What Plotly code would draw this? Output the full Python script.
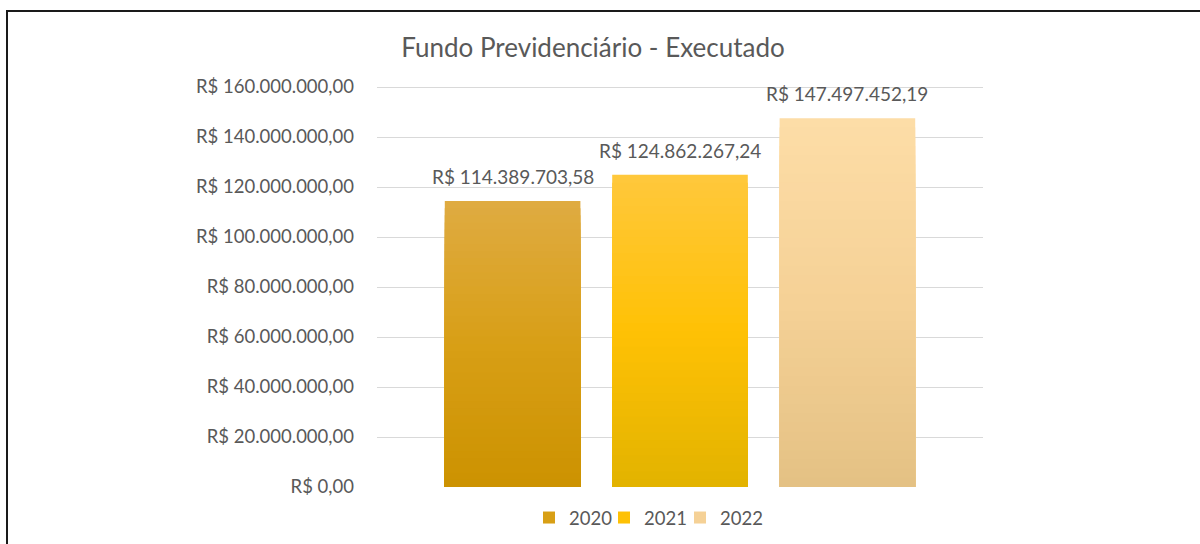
import plotly.graph_objects as go

# ---- data ----
years = ["2020", "2021", "2022"]
values = [114389703.58, 124862267.24, 147497452.19]
tick_values = [0, 20e6, 40e6, 60e6, 80e6, 100e6, 120e6, 140e6, 160e6]
title_text = "Fundo Previdenciário - Executado"

# gradient colours per series: (top, middle, bottom)
gradients = {
    "2020": ("#DFAB42", "#D89F16", "#CC9200"),
    "2021": ("#FFC83C", "#FFC105", "#E2B300"),
    "2022": ("#FDDDA7", "#F5D196", "#E4C184"),
}

FONT = "Lato"
GREY = "#595959"


def brl(v):
    s = f"{v:,.2f}"
    return "R$ " + s.replace(",", "X").replace(".", ",").replace("X", ".")


def hex2rgb(h):
    h = h.lstrip("#")
    return tuple(int(h[i:i + 2], 16) for i in (0, 2, 4))


def lerp(c1, c2, t):
    a, b = hex2rgb(c1), hex2rgb(c2)
    return "rgb({},{},{})".format(*[round(a[i] + (b[i] - a[i]) * t) for i in range(3)])


def grad_color(stops, t):
    # t: 0 bottom -> 1 top
    top, mid, bot = stops
    if t < 0.5:
        return lerp(bot, mid, t / 0.5)
    return lerp(mid, top, (t - 0.5) / 0.5)


# plot area: 0 at y=487px, 160M at y=87px; a little headroom so the top grid line shows
L, R, T, B = 377, 217, 83, 57
PW, PH = 1200 - L - R, 544 - T - B
y_top = tick_values[-1] * PH / (487 - 87)

legend_ids = ["legend", "legend2", "legend3"]
legend_left_px = [529, 604, 680]

N = 40
fig = go.Figure()
for year, val, lid in zip(years, values, legend_ids):
    # overlapping bars, tallest first, so the visible bands form a vertical gradient
    for k in range(N):
        frac = (N - k) / N
        t = (N - k - 0.5) / N
        fig.add_trace(go.Bar(
            x=[year], y=[val * frac],
            marker=dict(color=grad_color(gradients[year], t), line=dict(width=0)),
            name=year, legendgroup=year, legend=lid,
            showlegend=(k == N // 2),
            hoverinfo="skip",
        ))

annotations = []
for i, val in enumerate(values):
    annotations.append(dict(
        x=i, y=val, xref="x", yref="y", text=brl(val),
        showarrow=False, yanchor="bottom", yshift=11,
        font=dict(family=FONT, size=19, color=GREY),
    ))

# frame of the surrounding document box (left/top border)
shapes = [dict(
    type="rect", xref="paper", yref="paper",
    x0=(7 - L) / PW, x1=(1215 - L) / PW,
    y0=-(560 - (544 - B)) / PH, y1=((544 - B) - 11) / PH,
    line=dict(color="#1a1a1a", width=2), fillcolor="rgba(0,0,0,0)", layer="below",
)]

legend_style = dict(orientation="h", xanchor="left",
                    y=(487 - 518) / PH, yanchor="middle",
                    font=dict(family=FONT, size=18.5, color=GREY),
                    itemwidth=30, bgcolor="rgba(0,0,0,0)")

fig.update_layout(
    width=1200, height=544,
    margin=dict(l=L, r=R, t=T, b=B, autoexpand=False),
    paper_bgcolor="white", plot_bgcolor="white",
    barmode="overlay", bargap=0.19,
    title=dict(text=title_text, x=593 / 1200, xanchor="center",
               y=1 - 48 / 544, yanchor="middle", yref="container",
               font=dict(family=FONT, size=26, color=GREY)),
    xaxis=dict(type="category", range=[-0.81, 2.81], showticklabels=False,
               showgrid=False, zeroline=False, showline=False),
    yaxis=dict(range=[0, y_top], tickvals=tick_values,
               ticktext=[brl(v) for v in tick_values],
               showgrid=True, gridcolor="#D9D9D9", gridwidth=1,
               zeroline=False, showline=False, ticks="",
               ticklabelstandoff=22,
               tickfont=dict(family=FONT, size=18.5, color=GREY)),
    annotations=annotations,
    shapes=shapes,
    showlegend=True,
)
for lid, lx in zip(legend_ids, legend_left_px):
    fig.update_layout({lid: dict(legend_style, x=(lx - L) / PW)})

fig.write_html("out.html", config={"displayModeBar": False},
               post_script="document.body.style.margin='0px';")
